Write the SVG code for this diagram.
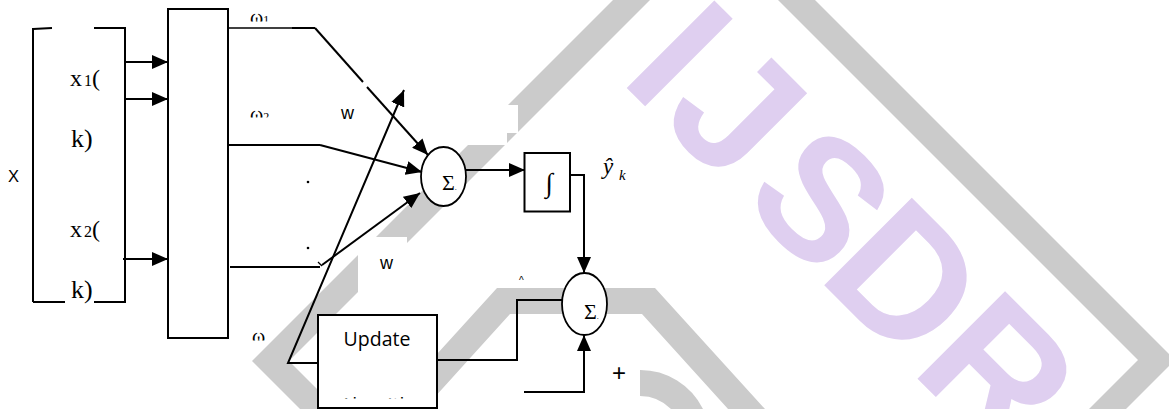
<svg xmlns="http://www.w3.org/2000/svg" width="1169" height="409" viewBox="0 0 1169 409">
<style>
.ln{fill:none;stroke:#000;stroke-width:2}
.thin{fill:none;stroke:#000;stroke-width:1.3}
.box{fill:#fff;stroke:#000;stroke-width:2}
.sum{fill:#fff;stroke:#000;stroke-width:1.8}
.serif{font-family:"Liberation Serif","Times New Roman",serif;fill:#000}
.sans{font-family:"Liberation Sans",Arial,sans-serif;fill:#000}
.open{font-family:"Open Sans","Liberation Sans",sans-serif;fill:#000}
.band{fill:#cbcbcb}
.wm{fill:#dfcff0;font-family:"Liberation Sans",Arial,sans-serif;font-weight:bold;font-size:180px}
</style>
<defs>
<marker id="ah" markerUnits="userSpaceOnUse" markerWidth="17" markerHeight="14" refX="16" refY="7" orient="auto">
<path d="M0,0 L16,7 L0,14 z" fill="#000"/>
</marker>
<clipPath id="c1"><rect x="240" y="0" width="40" height="21.5"/></clipPath>
<clipPath id="c2"><rect x="240" y="100" width="40" height="17.5"/></clipPath>
<clipPath id="c3"><rect x="240" y="320" width="40" height="20.5"/></clipPath>
<clipPath id="c4"><rect x="320" y="380" width="115" height="18.5"/></clipPath>
</defs>
<rect x="0" y="0" width="1169" height="409" fill="#fff"/>

<g id="watermark">
<polygon class="band" points="623,-10 252,361 311,420 348,420 289,361 660,-10"/>
<polygon class="band" points="768,-10 1138,360 1078,420 1115,420 1175,360 805,-10"/>
<polygon class="band" points="377,420 497,288 655,288 775,420 738,420 642,314 510,314 414,420"/>
<path class="band" d="M640,370 A70,70 0 0 1 703,409 L671,409 A44,44 0 0 0 640,396 Z"/>
<g transform="rotate(45)" class="wm">
<text x="493.5" y="-381">I</text>
<text x="549" y="-381">J</text>
<text x="664" y="-381" font-size="172">S</text>
<text x="772.5" y="-381">D</text>
<text x="904.5" y="-381">R</text>
</g>
<rect x="330" y="105" width="188" height="28" fill="#fff"/>
<rect x="330" y="133" width="177" height="12" fill="#fff"/>
<rect x="358" y="237" width="49" height="55" fill="#fff"/>
</g>

<g id="input-vector">
<path class="ln" d="M33,28 V302 M33,29 L52,28 M94,28 H125 V302 M33,302 H65 M94,302 H126"/>
<text class="sans" x="8" y="182" font-size="16.5">X</text>
<text class="serif" x="70" y="86" font-size="24">x<tspan font-size="16" dx="2">1</tspan>(</text>
<text class="serif" x="71" y="147" font-size="26">k)</text>
<text class="serif" x="70" y="237" font-size="24">x<tspan font-size="16" dx="2">2</tspan>(</text>
<text class="serif" x="71" y="298" font-size="26">k)</text>
</g>

<g id="basis-block">
<rect class="box" x="168" y="9" width="60" height="329"/>
</g>

<g id="weight-labels">
<text class="serif" x="250" y="23.5" font-size="20" clip-path="url(#c1)">ω<tspan font-size="12">1</tspan></text>
<text class="serif" x="250" y="120.5" font-size="20" clip-path="url(#c2)">ω<tspan font-size="12">2</tspan></text>
<text class="serif" x="252" y="342.5" font-size="20" clip-path="url(#c3)">ω</text>
<text class="sans" x="341" y="118.5" font-size="18">w</text>
<text class="sans" x="380" y="268.5" font-size="18">w</text>
<circle cx="308" cy="182" r="1.3" fill="#000"/>
<circle cx="308" cy="248" r="1.3" fill="#000"/>
</g>

<g id="sum1">
<ellipse class="sum" cx="443.5" cy="176.5" rx="22.5" ry="29.5"/>
<text class="serif" x="442" y="190" font-size="22">Σ<tspan font-size="8">.</tspan></text>
</g>

<g id="integrator">
<rect class="box" x="524.5" y="153" width="45.5" height="58.5" stroke-width="1.8"/>
<text class="serif" x="549" y="192" font-size="27" text-anchor="middle">∫</text>
</g>

<g id="output-label">
<text class="serif" x="603" y="174" font-size="23" font-style="italic">ŷ</text>
<text class="serif" x="619" y="180" font-size="15" font-style="italic">k</text>
<text class="sans" x="519" y="284" font-size="10">^</text>
<text class="sans" x="612" y="381" font-size="24">+</text>
</g>

<g id="sum2">
<ellipse class="sum" cx="584.5" cy="304" rx="22.5" ry="31"/>
<text class="serif" x="584" y="319" font-size="22">Σ<tspan font-size="8">.</tspan></text>
</g>

<g id="update">
<rect class="box" x="318" y="315" width="119" height="93"/>
<text class="open" x="377" y="346" font-size="19.5" text-anchor="middle">Update</text>
<text class="open" x="340" y="412" font-size="19.5" clip-path="url(#c4)">Algorithm</text>
</g>

<g id="connectors">
<line class="ln" x1="125" y1="62" x2="168" y2="62" marker-end="url(#ah)"/>
<line class="ln" x1="125" y1="99" x2="168" y2="99" marker-end="url(#ah)"/>
<line class="ln" x1="123" y1="259" x2="168" y2="259" marker-end="url(#ah)"/>
<line class="thin" x1="228" y1="28" x2="292" y2="28"/>
<line class="ln" x1="292" y1="28" x2="315" y2="28"/>
<line class="ln" x1="315" y1="28" x2="363" y2="82"/>
<line class="ln" x1="367" y1="87" x2="428" y2="155" marker-end="url(#ah)"/>
<line class="ln" x1="228" y1="145" x2="320" y2="145"/>
<line class="ln" x1="320" y1="145" x2="422" y2="172" marker-end="url(#ah)"/>
<line class="ln" x1="230" y1="267" x2="320" y2="267"/>
<path class="thin" d="M318,262 L322,266"/>
<line class="ln" x1="322" y1="265" x2="420" y2="193" marker-end="url(#ah)"/>
<polyline class="ln" points="318,363 288,363 404,90" marker-end="url(#ah)"/>
<line class="ln" x1="466" y1="170" x2="525" y2="170" marker-end="url(#ah)"/>
<polyline class="ln" points="570,175 584,175 584,273" marker-end="url(#ah)"/>
<polyline class="ln" points="437,360 517,360 517,300 562,300"/>
<polyline class="ln" points="524,392 584,392 584,335" marker-end="url(#ah)"/>
</g>
</svg>
